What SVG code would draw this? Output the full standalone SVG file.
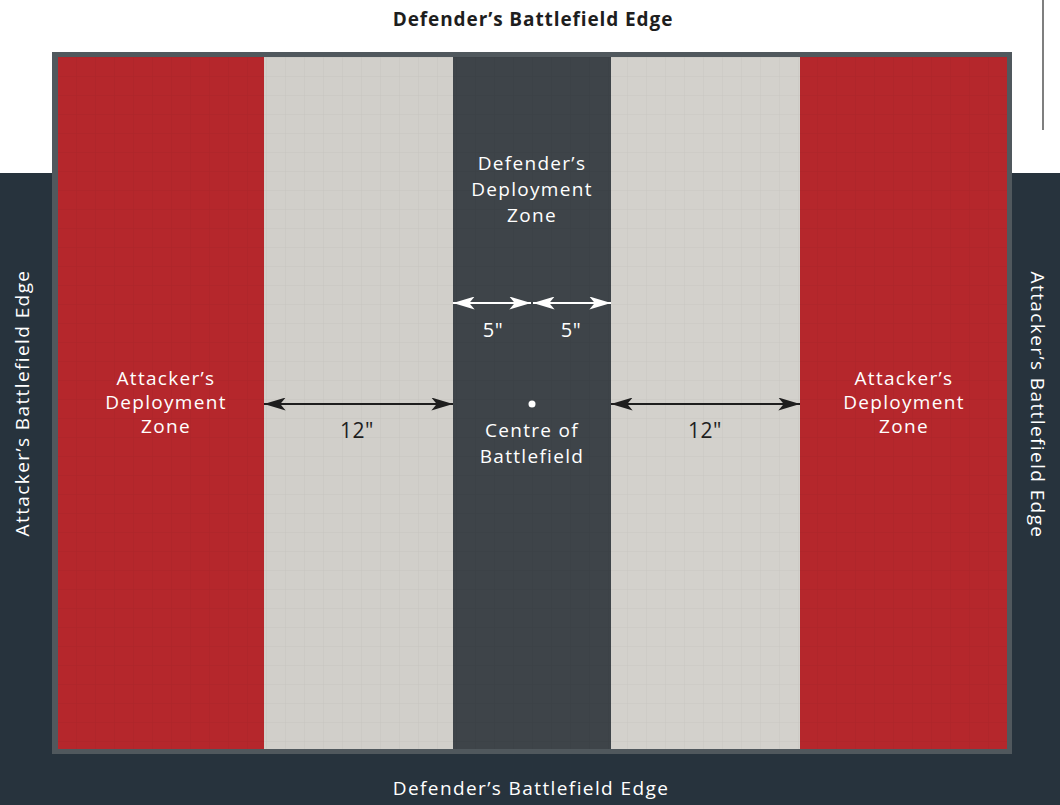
<svg xmlns="http://www.w3.org/2000/svg" width="1060" height="805" viewBox="0 0 1060 805">
<defs>
<style>
.lbl{font-family:"Open Sans","DejaVu Sans",sans-serif;font-size:19px;fill:#ffffff;text-anchor:middle;letter-spacing:1.3px}
.dim{font-family:"Open Sans","DejaVu Sans",sans-serif;font-size:21px;fill:#1e1e1e;text-anchor:middle;letter-spacing:0.5px}
.dimw{font-family:"Open Sans","DejaVu Sans",sans-serif;font-size:20px;fill:#ffffff;text-anchor:middle;letter-spacing:0.5px}
.edge{font-family:"Open Sans","DejaVu Sans",sans-serif;font-size:19px;fill:#ffffff;text-anchor:middle;letter-spacing:1.4px}
.title{font-family:"Open Sans","DejaVu Sans",sans-serif;font-size:19px;font-weight:bold;fill:#1e1e1e;text-anchor:middle;letter-spacing:0.9px}
.blk{stroke:#1e1e1e;stroke-width:2;fill:none}
.wht{stroke:#ffffff;stroke-width:2;fill:none}
</style>
<marker id="abig" viewBox="0 0 20 12" refX="20" refY="6" markerWidth="22" markerHeight="13" markerUnits="userSpaceOnUse" orient="auto-start-reverse">
<path d="M0,0 L20,6 L0,12 L5,6 Z" fill="#1e1e1e"/>
</marker>
<marker id="aw" viewBox="0 0 20 12" refX="20" refY="6" markerWidth="22" markerHeight="13" markerUnits="userSpaceOnUse" orient="auto-start-reverse">
<path d="M0,0 L20,6 L0,12 L5,6 Z" fill="#ffffff"/>
</marker>
<pattern id="grid" width="19" height="19" patternUnits="userSpaceOnUse">
<path d="M19,0 L0,0 0,19" fill="none" stroke="#000" stroke-width="1"/>
</pattern>
</defs>
<rect x="0" y="0" width="1060" height="805" fill="#ffffff"/>
<rect x="0" y="173" width="1060" height="632" fill="#27333d"/>
<line x1="1043" y1="0" x2="1043" y2="130" stroke="#555" stroke-width="1.5"/>
<g id="board">
<rect x="52" y="52" width="960" height="702" fill="#50585d"/>
<rect x="58" y="57" width="206" height="692" fill="#b5272c"/>
<rect x="264" y="57" width="189" height="692" fill="#d1cfca"/>
<rect x="453" y="57" width="158" height="692" fill="#3e4449"/>
<rect x="611" y="57" width="189" height="692" fill="#d3d1cc"/>
<rect x="800" y="57" width="207" height="692" fill="#b5272c"/>
<rect x="58" y="57" width="949" height="692" fill="url(#grid)" opacity="0.05"/>
</g>
<g id="edges">
<text class="title" x="533" y="26">Defender’s Battlefield Edge</text>
<text class="edge" x="531" y="795">Defender’s Battlefield Edge</text>
<text class="edge" transform="translate(29,403) rotate(-90)">Attacker’s Battlefield Edge</text>
<text class="edge" transform="translate(1031,405) rotate(90)">Attacker’s Battlefield Edge</text>
</g>
<g id="attacker-left">
<text class="lbl" x="166" y="385">Attacker’s</text>
<text class="lbl" x="166" y="409">Deployment</text>
<text class="lbl" x="166" y="433">Zone</text>
</g>
<g id="attacker-right">
<text class="lbl" x="904" y="385">Attacker’s</text>
<text class="lbl" x="904" y="409">Deployment</text>
<text class="lbl" x="904" y="433">Zone</text>
</g>
<g id="defender">
<text class="lbl" x="532" y="170">Defender’s</text>
<text class="lbl" x="532" y="196">Deployment</text>
<text class="lbl" x="532" y="222">Zone</text>
</g>
<g id="centre">
<circle cx="532" cy="404" r="3.5" fill="#ffffff"/>
<text class="lbl" x="532" y="437">Centre of</text>
<text class="lbl" x="532" y="463">Battlefield</text>
</g>
<g id="connectors">
<line class="blk" x1="264" y1="404" x2="453" y2="404" marker-start="url(#abig)" marker-end="url(#abig)"/>
<line class="blk" x1="611" y1="404" x2="800" y2="404" marker-start="url(#abig)" marker-end="url(#abig)"/>
<line class="wht" x1="453" y1="303" x2="531" y2="303" marker-start="url(#aw)" marker-end="url(#aw)"/>
<line class="wht" x1="533" y1="303" x2="611" y2="303" marker-start="url(#aw)" marker-end="url(#aw)"/>
</g>
<g id="dims">
<text class="dim" x="357" y="438">12"</text>
<text class="dim" x="705" y="438">12"</text>
<text class="dimw" x="493" y="337">5"</text>
<text class="dimw" x="571" y="337">5"</text>
</g>
</svg>
